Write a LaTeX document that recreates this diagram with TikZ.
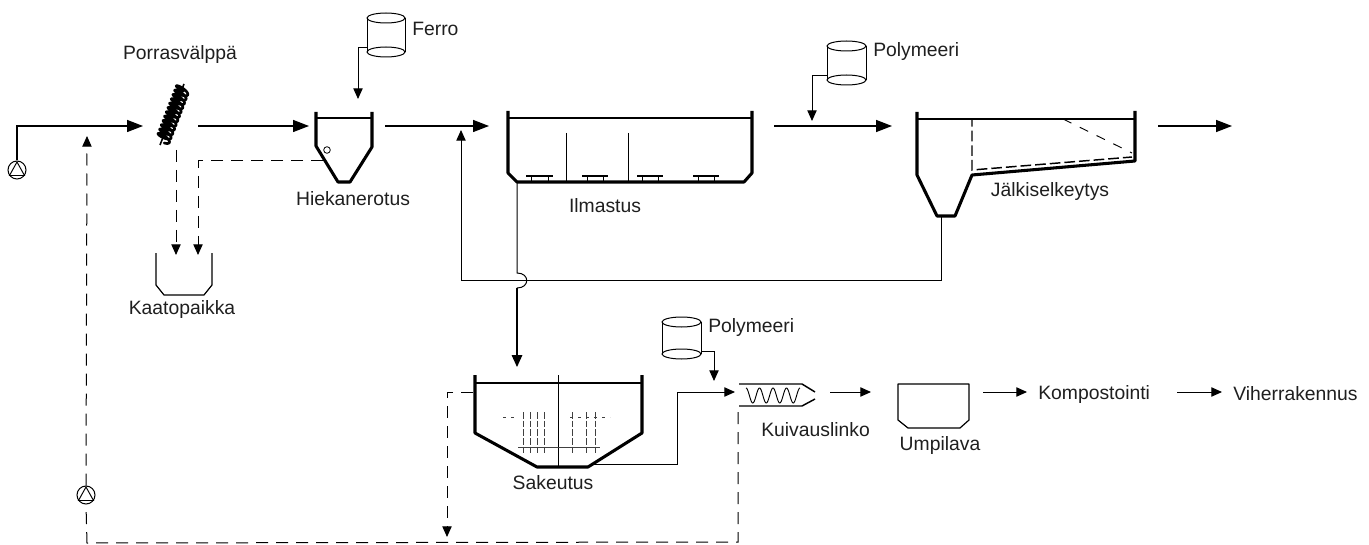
\documentclass[tikz,border=0pt]{standalone}
\usepackage{fontspec}
\setmainfont{Liberation Sans}
\usetikzlibrary{arrows.meta}
\tikzset{
  lbl/.style={inner sep=0pt,font=\fontsize{14.5}{16}\selectfont,text=black!88},
  lblw/.style={lbl,anchor=west},
  pipe/.style={line width=1.05pt,draw=black},
  thinpipe/.style={line width=0.75pt,draw=black},
  flow/.style={pipe,-{Triangle[length=12pt,width=9pt]}},
  sflow/.style={thinpipe,-{Triangle[length=8pt,width=7pt]}},
  dflow/.style={thinpipe,dash pattern=on 9pt off 6pt,-{Triangle[length=8pt,width=7pt]}},
  dline/.style={thinpipe,dash pattern=on 9pt off 6pt},
  wall/.style={line width=2.3pt,draw=black,line join=round},
  water/.style={line width=0.8pt,draw=black},
  pumpnode/.style={circle,draw,line width=0.75pt,minimum size=13.5pt,inner sep=0pt},
  vessel/.style={line width=0.9pt,draw=black,line join=round},
  faint/.style={line width=0.6pt,draw=black!75}
}
\newcommand{\drum}[4]{% x left, x right, y top centre, y bottom centre
  \draw[thinpipe] (#1,#3) -- (#1,#4) (#2,#3) -- (#2,#4);
  \draw[thinpipe,fill=white] ({(#1+#2)/2},#3) ellipse ({(#2-#1)/2} and 5);
  \draw[thinpipe,fill=white] ({(#1+#2)/2},#4) ellipse ({(#2-#1)/2} and 5);}
\begin{document}
\begin{tikzpicture}[x=0.75pt,y=-0.75pt]
\useasboundingbox[fill=white] (0,0) rectangle (1369,545);

% ---- pumps
\node[pumpnode] (p1) at (17,170) {};
\node[pumpnode] (p2) at (86,495) {};
\draw[line width=0.7pt] (17,162) -- (24.5,175.5) -- (9.5,175.5) -- cycle;
\draw[line width=0.7pt] (86,487) -- (93.5,500.5) -- (78.5,500.5) -- cycle;

% ---- screen
\draw[line width=2pt,line cap=round] plot[domain=0:1,samples=300,smooth]
  ({163+20*\x+6*sin(4320*\x)+1.2*cos(4320*\x)},{140-52*\x+2.5*sin(4320*\x)+3*cos(4320*\x)});
\draw[line width=1.2pt] (160,145) -- (184,84);
\coordinate (scrIn) at (143,126);
\coordinate (scrOut) at (198,126);
\coordinate (scrDown) at (176,150);

% ---- Hiekanerotus
\draw[wall] (316,112) -- (316,146) -- (338,182) -- (350,182) -- (372,147) -- (372,112);
\draw[water] (316,118) -- (372,118);
\draw[line width=0.6pt] (327,150) circle (3.3);
\coordinate (hkIn) at (309,126);
\coordinate (hkOut) at (385,126);
\coordinate (hkSand) at (323,161);

% ---- Kaatopaikka
\draw[vessel] (156,253) -- (156,285) -- (164,295) -- (204,295) -- (212,285) -- (212,253);
\coordinate (kaA) at (176,255);
\coordinate (kaB) at (198,255);

% ---- Ferro drum
\drum{367}{405}{18}{52}
\coordinate (feOut) at (367,48);
\coordinate (feIn) at (358,99);

% ---- Ilmastus
\draw[wall] (508,111) -- (508,173) -- (517,182) -- (744,182) -- (752,173) -- (752,111);
\draw[water] (508,118) -- (752,118);
\draw[line width=0.7pt] (566,133) -- (566,182) (628,133) -- (628,182);
\foreach \a/\b in {526/553,582/608,637/663,693/719}{
  \draw[line width=1.7pt] (\a,176) -- (\b,176);
  \draw[line width=0.7pt] (\a+5,176) -- (\a+5,182) (\b-5,176) -- (\b-5,182);
}
\coordinate (ilIn) at (489,126);
\coordinate (ilBot) at (517,182);
\coordinate (ilOut) at (774,126);

% ---- Polymeeri drum 1
\drum{827}{866}{46}{80}
\coordinate (po1Out) at (827,76);
\coordinate (po1In) at (812,121);

% ---- Jalkiselkeytys
\draw[wall] (917,112) -- (917,175) -- (937,216) -- (955,216) -- (972,175) -- (1135,161) -- (1135,111);
\draw[water] (917,119) -- (1135,119);
\draw[line width=1.1pt,dash pattern=on 8pt off 3pt] (1063,119) -- (972,119) -- (972,170) -- (1132,157);
\draw[line width=0.7pt,dash pattern=on 7pt off 7pt] (1063,119) -- (1132,153);
\coordinate (jaIn) at (892,126);
\coordinate (jaOut) at (1158,126);
\coordinate (jaBot) at (941,216);

% ---- Sakeutus
\draw[wall] (475,375) -- (475,433) -- (537,467) -- (588,467) -- (642,433) -- (642,375);
\draw[water] (475,383) -- (642,383);
\draw[line width=0.7pt] (558,375) -- (558,467);
\draw[faint] (518,447) -- (600,447);
\foreach \xx in {523,530,537,544,572,586,595}{
  \draw[faint,dash pattern=on 5pt off 1.5pt] (\xx,412) -- (\xx,453);
}
\draw[faint,dash pattern=on 2pt off 4pt] (503,417) -- (518,417) (570,417) -- (610,417);
\coordinate (saIn) at (517,367);
\coordinate (saOver) at (473,392);
\coordinate (saOut) at (593,464);

% ---- Polymeeri drum 2
\drum{662}{701}{322}{354}
\coordinate (po2Out) at (701,351);
\coordinate (po2In) at (714,381);

% ---- Kuivauslinko
\draw[line width=1.1pt,line join=round] (739,384) -- (802,384) -- (815,392);
\draw[line width=1.1pt,line join=round] (739,406) -- (802,406) -- (815,399);
\draw[line width=0.7pt] plot[domain=0:1,samples=90,smooth]
  ({746+54*\x},{395.5+7.5*sin(1440*\x-90)});
\coordinate (kuIn) at (735,392);
\coordinate (kuOut) at (830,392);
\coordinate (kuDown) at (738,412);

% ---- Umpilava
\draw[vessel] (898,420) -- (898,384) -- (969,384) -- (969,420) -- (960,428) -- (908,428) -- cycle;
\coordinate (umIn) at (871,392);
\coordinate (umOut) at (983,392);

% ---- labels
\node[lbl] (tPorras) at (180,55) {Porrasvälppä};
\node[lblw] (tFerro) at (412,29) {Ferro};
\node[lbl] (tHieka) at (353,199) {Hiekanerotus};
\node[lbl] (tKaato) at (182,310) {Kaatopaikka};
\node[lbl] (tIlma) at (605,206) {Ilmastus};
\node[lblw] (tPol1) at (873,52) {Polymeeri};
\node[lbl] (tJalki) at (1050,192) {Jälkiselkeytys};
\node[lblw] (tPol2) at (708,327) {Polymeeri};
\node[lbl] (tSak) at (553,483) {Sakeutus};
\node[lblw] (tKui) at (761,430) {Kuivauslinko};
\node[lbl] (tUmpi) at (940,445) {Umpilava};
\node[lblw] (tKomp) at (1038,394) {Kompostointi};
\node[lblw] (tVihe) at (1233,394) {Viherrakennus};

% ---- solid connectors
\draw[flow] (p1.north) |- (scrIn);
\draw[flow] (scrOut) -- (hkIn);
\draw[flow] (hkOut) -- (ilIn);
\draw[flow] (ilOut) -- (jaIn);
\draw[flow] (jaOut) -- (1232,126);
\draw[sflow] (feOut) -| (feIn);
\draw[sflow] (po1Out) -| (po1In);
\draw[sflow] (po2Out) -| (po2In);
% return sludge
\draw[sflow] (jaBot) |- (461,280) -- (461,130);
% aeration -> thickener with jump
\coordinate (jumpA) at (517,273);
\coordinate (jumpB) at (517,288);
\draw[thinpipe] (ilBot) -- (jumpA) .. controls (530,273) and (530,288) .. (jumpB);
\draw[sflow,-{Triangle[length=9pt,width=8pt]},line width=0.85pt] (jumpB) -- (saIn);
% thickener -> centrifuge
\draw[sflow] (saOut) -- (677,464) -- (677,392) -- (kuIn);
\draw[sflow] (kuOut) -- (umIn);
\draw[sflow] (umOut) -- (1027,392);
\draw[sflow] (1177,392) -- (1222,392);

% ---- dashed connectors
\draw[dflow] (scrDown) -- (kaA);
\draw[dflow] (hkSand) -| (kaB);
\draw[dflow] (saOver) -| (447,537);
\draw[dline] (kuDown) -- (738,542) -- (87,543) -- (p2.south);
\draw[dflow] (p2.north) -- (87,136);
\end{tikzpicture}
\end{document}
